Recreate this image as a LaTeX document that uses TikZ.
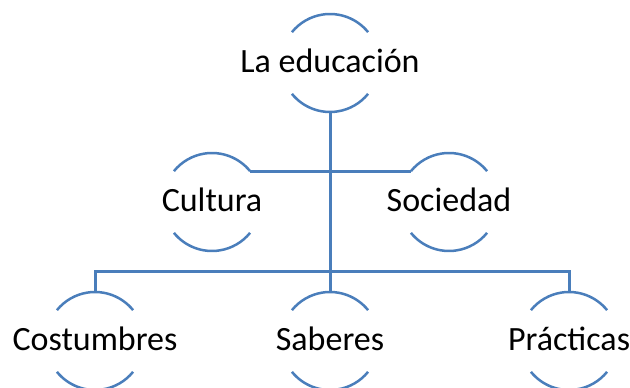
\documentclass[tikz,border=0pt]{standalone}
\usepackage{fontspec}
\setmainfont{Carlito}
\definecolor{edublue}{RGB}{74,126,187}
\tikzset{
  ring/.style={circle, minimum size=98pt, inner sep=0pt, outer sep=0pt,
    label={[txt]center:#1}},
  txt/.style={inner sep=0pt, text height=20pt, text depth=0pt,
    font=\fontsize{34}{40}\selectfont},
  rim/.style={draw=edublue, line width=2.5pt},
  link/.style={draw=edublue, line width=3pt},
}

\begin{document}
\begin{tikzpicture}[x=1pt, y=1pt]
  \useasboundingbox (0,0) rectangle (630,388);
  \clip (0,0) rectangle (630,388);

  \node [ring=La educación] (edu) at (330,325) {};
  \node [ring=Cultura] (cul) at (212,186) {};
  \node [ring=Sociedad] (soc) at (449,186) {};
  \node [ring=Costumbres] (cos) at (95,47) {};
  \node [ring=Saberes] (sab) at (330,47) {};
  \node [ring=Prácticas] (pra) at (569,47) {};

  % upper and lower arcs of each ring
  \draw [rim] (edu.39) arc (39:141:49);
  \draw [rim] (edu.219) arc (219:321:49);
  \draw [rim] (cul.39) arc (39:141:49);
  \draw [rim] (cul.219) arc (219:321:49);
  \draw [rim] (soc.39) arc (39:141:49);
  \draw [rim] (soc.219) arc (219:321:49);
  \draw [rim] (cos.39) arc (39:141:49);
  \draw [rim] (cos.219) arc (219:321:49);
  \draw [rim] (sab.39) arc (39:141:49);
  \draw [rim] (sab.219) arc (219:321:49);
  \draw [rim] (pra.39) arc (39:141:49);
  \draw [rim] (pra.219) arc (219:321:49);

  % connectors
  \coordinate (bus) at (330,116);
  \draw [link] (edu.south) -- (sab.north);
  \draw [link] (cul.39) -- (soc.141);
  \draw [link] (cos.north) |- (bus) -| (pra.north);
\end{tikzpicture}
\end{document}
